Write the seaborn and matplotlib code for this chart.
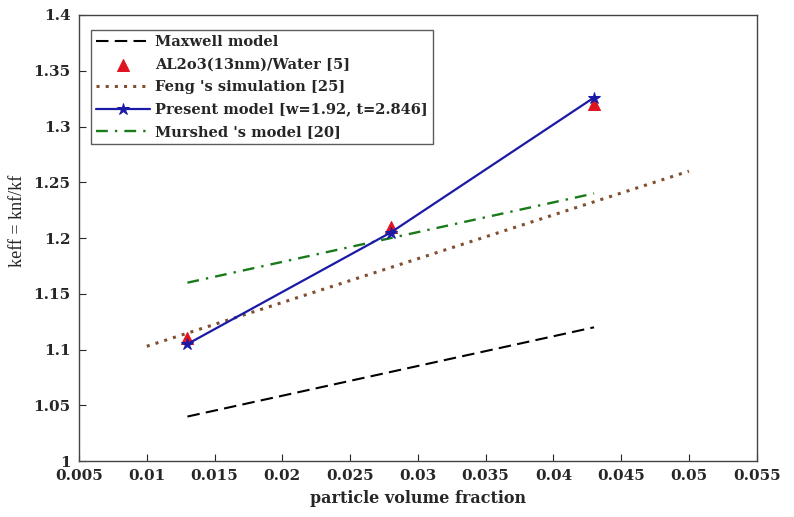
import matplotlib
matplotlib.use("Agg")
import matplotlib.pyplot as plt
import seaborn as sns

maxwell_x = [0.013, 0.043]
maxwell_y = [1.04, 1.12]
exp_x = [0.013, 0.028, 0.043]
exp_y = [1.11, 1.21, 1.32]
feng_x = [0.010, 0.050]
feng_y = [1.103, 1.26]
present_x = [0.013, 0.028, 0.043]
present_y = [1.105, 1.205, 1.326]
murshed_x = [0.013, 0.043]
murshed_y = [1.16, 1.24]

xticks = [0.005, 0.01, 0.015, 0.02, 0.025, 0.03, 0.035, 0.04, 0.045, 0.05, 0.055]
xtick_labels = ['0.005', '0.01', '0.015', '0.02', '0.025', '0.03', '0.035', '0.04', '0.045', '0.05', '0.055']
yticks = [1.0, 1.05, 1.1, 1.15, 1.2, 1.25, 1.3, 1.35, 1.4]
ytick_labels = ['1', '1.05', '1.1', '1.15', '1.2', '1.25', '1.3', '1.35', '1.4']

sns.set_style("white")
plt.rcParams['font.family'] = ['DejaVu Serif', 'DejaVu Sans']

fig = plt.figure(figsize=(7.94, 5.17), dpi=100)
ax = fig.add_axes([0.0995, 0.108, 0.8535, 0.863])

sns.lineplot(x=maxwell_x, y=maxwell_y, ax=ax, color='black', linestyle=(0, (6, 3)),
             linewidth=1.5, label='Maxwell model')
sns.scatterplot(x=exp_x, y=exp_y, ax=ax, color='#e0141e', marker='^', s=75,
                edgecolor='#e0141e', label='AL2o3(13nm)/Water [5]', zorder=3)
sns.lineplot(x=feng_x, y=feng_y, ax=ax, color='#804f30', linestyle=(0, (1, 2)),
             linewidth=2.2, label="Feng 's simulation [25]")
sns.lineplot(x=present_x, y=present_y, ax=ax, color='#1a1aa6', linewidth=1.6,
             marker='*', markersize=9, markeredgecolor='#1a1aa6',
             label='Present model [w=1.92, t=2.846]', zorder=4)
sns.lineplot(x=murshed_x, y=murshed_y, ax=ax, color='#1a7a1a', linestyle=(0, (5, 3, 1, 3)),
             linewidth=1.7, label="Murshed 's model [20]")

ax.set_xlim(0.005, 0.055)
ax.set_ylim(1.0, 1.4)
ax.set_xticks(xticks)
ax.set_xticklabels(xtick_labels)
ax.set_yticks(yticks)
ax.set_yticklabels(ytick_labels)
ax.tick_params(axis='both', direction='in', length=5, labelsize=11, width=0.8,
               bottom=True, left=True, top=False, right=False)
ax.tick_params(axis='x', pad=6)
ax.tick_params(axis='y', pad=6)
for lab in ax.get_xticklabels() + ax.get_yticklabels():
    lab.set_fontweight('bold')
for sp in ax.spines.values():
    sp.set_color('#444444')
    sp.set_linewidth(1.0)

ax.set_xlabel('particle volume fraction', fontsize=11.5, fontweight='bold', labelpad=5)
ax.set_ylabel('keff = knf/kf', fontsize=13, fontweight='normal',
              family=['Liberation Serif', 'DejaVu Serif'])
ax.yaxis.set_label_coords(-0.078, 0.538)

leg = ax.legend(loc='upper left', bbox_to_anchor=(0.017, 0.966),
                frameon=True, fancybox=False, edgecolor='#333333', borderpad=0.35,
                labelspacing=0.58, handlelength=3.7, handletextpad=0.35, borderaxespad=0.0,
                prop={'weight': 'bold', 'size': 10.5, 'family': 'DejaVu Serif'})
leg.get_frame().set_linewidth(1.0)

fig.savefig('out.png', dpi=100)
